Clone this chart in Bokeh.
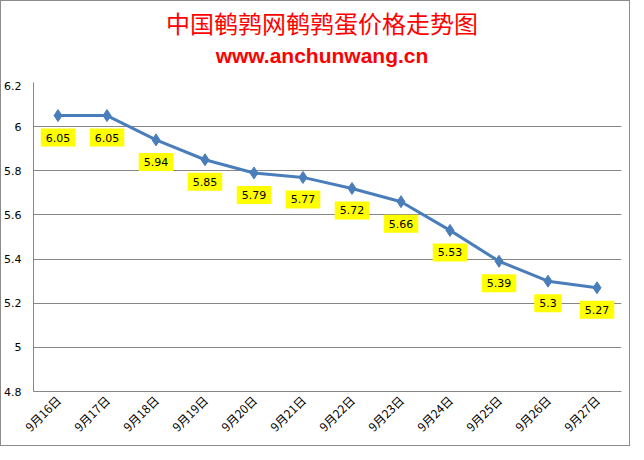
import math
from bokeh.plotting import figure
from bokeh.layouts import column
from bokeh.models import Range1d, FixedTicker, Label, ColumnDataSource, Div
from bokeh.embed import file_html
from bokeh.resources import INLINE

dates = ["9月16日", "9月17日", "9月18日", "9月19日", "9月20日", "9月21日",
         "9月22日", "9月23日", "9月24日", "9月25日", "9月26日", "9月27日"]
prices = [6.05, 6.05, 5.94, 5.85, 5.79, 5.77, 5.72, 5.66, 5.53, 5.39, 5.30, 5.27]
price_labels = ["6.05", "6.05", "5.94", "5.85", "5.79", "5.77", "5.72", "5.66",
                "5.53", "5.39", "5.3", "5.27"]
y_ticks = [4.8, 5.0, 5.2, 5.4, 5.6, 5.8, 6.0, 6.2]
y_tick_labels = ["4.8", "5", "5.2", "5.4", "5.6", "5.8", "6", "6.2"]
title_text = "中国鹌鹑网鹌鹑蛋价格走势图"
subtitle_text = "www.anchunwang.cn"

xs = list(range(len(dates)))
src = ColumnDataSource(dict(x=xs, y=prices))

header = Div(
    text=(
        '<div style="position:relative;width:628px;height:80px;">'
        '<div style="position:absolute;left:7px;top:8px;width:628px;text-align:center;'
        'font-family:\'Noto Sans CJK SC\';font-size:24px;line-height:28px;color:#FF0000;">'
        + title_text + '</div>'
        '<div style="position:absolute;left:7px;top:42px;width:628px;text-align:center;'
        'font-family:\'Liberation Sans\';font-weight:bold;font-size:21px;line-height:26px;'
        'color:#FF0000;">' + subtitle_text + '</div></div>'
    ),
    width=628, height=80, margin=0,
)

p = figure(width=628, height=364, output_backend="svg", toolbar_location=None,
           x_range=Range1d(-0.5, len(dates) - 0.5), y_range=Range1d(4.8, 6.2),
           min_border_left=31, min_border_right=8, min_border_bottom=54,
           min_border_top=1, margin=0)
p.title.visible = False

p.outline_line_color = None
p.background_fill_color = "white"
p.border_fill_color = "white"

p.xgrid.visible = False
p.ygrid.grid_line_color = "#868686"
p.ygrid.grid_line_width = 1
p.ygrid.ticker = FixedTicker(ticks=y_ticks)

p.yaxis.ticker = FixedTicker(ticks=y_ticks)
p.yaxis.major_label_overrides = {t: l for t, l in zip(y_ticks, y_tick_labels)}
p.yaxis.axis_line_color = "#868686"
p.yaxis.major_tick_line_color = None
p.yaxis.minor_tick_line_color = None
p.yaxis.major_label_text_font = "DejaVu Sans"
p.yaxis.major_label_text_font_size = "11px"
p.yaxis.major_label_text_color = "black"
p.yaxis.major_label_standoff = 6

p.xaxis.ticker = FixedTicker(ticks=xs)
p.xaxis.major_label_overrides = {i: d for i, d in zip(xs, dates)}
p.xaxis.major_label_orientation = math.pi / 4
p.xaxis.axis_line_color = "#868686"
p.xaxis.major_tick_line_color = None
p.xaxis.minor_tick_line_color = None
p.xaxis.major_label_text_font = "Noto Sans CJK SC"
p.xaxis.major_label_text_font_size = "12px"
p.xaxis.major_label_text_color = "black"
p.xaxis.major_label_standoff = 0

p.line("x", "y", source=src, line_color="#4A7EBB", line_width=3)
p.scatter("x", "y", source=src, marker="diamond", size=12,
          fill_color="#4A7EBB", line_color="#4A7EBB")

for xi, yi, lab in zip(xs, prices, price_labels):
    p.add_layout(Label(x=xi, y=yi, text=lab, y_offset=-22, x_offset=0,
                       text_align="center", text_baseline="middle",
                       text_font="DejaVu Sans", text_font_size="11px",
                       text_color="black", background_fill_color="#FFFF00",
                       padding=5))

layout = column(header, p, spacing=0)
layout.styles = {"border": "1px solid #8c8c8c", "background-color": "white"}

open("out.html", "w").write(file_html(layout, INLINE))
